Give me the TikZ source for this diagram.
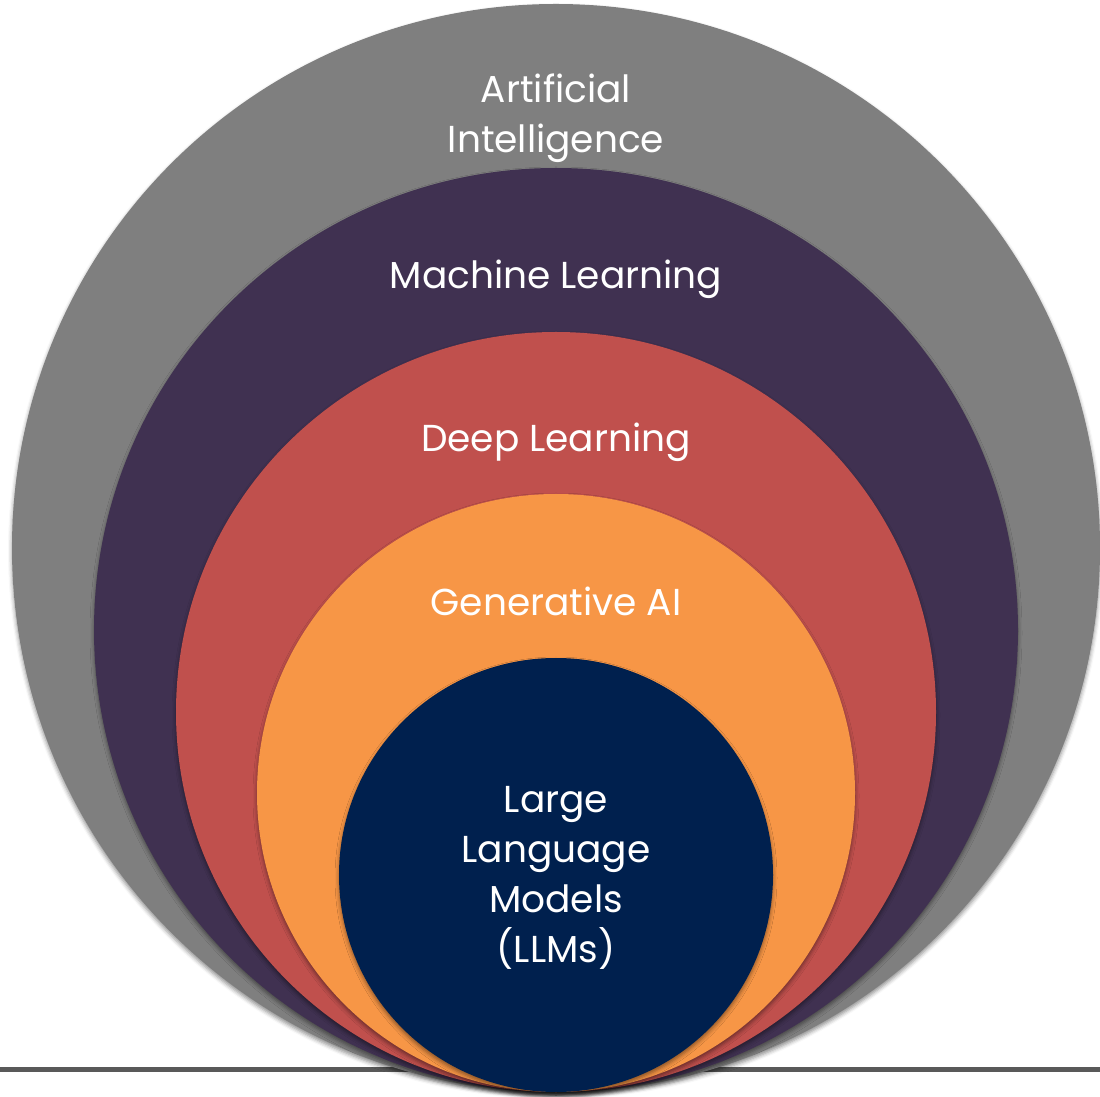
\documentclass[tikz,border=0pt]{standalone}
\usepackage{fontspec}
\setmainfont{Poppins}
\usetikzlibrary{shadows.blur}
\definecolor{cgray}{HTML}{7F7F7F}
\definecolor{cpurple}{HTML}{403151}
\definecolor{cred}{HTML}{C0504D}
\definecolor{corange}{HTML}{F79646}
\definecolor{cnavy}{HTML}{00204E}
\definecolor{cline}{HTML}{595959}
\tikzset{
  ring/.style={circle, inner sep=0pt, draw=none,
    blur shadow={shadow xshift=0pt, shadow yshift=-3pt, shadow blur radius=4pt, shadow opacity=45}},
  lbl/.style={text=white, align=center, font=\fontsize{37.5}{50}\selectfont, inner sep=0pt}
}
\begin{document}
\begin{tikzpicture}[x=1pt,y=1pt]
\useasboundingbox (0,0) rectangle (1100,1096);
\coordinate (l0) at (0,27);
\coordinate (l1) at (1100,27);
\draw[line width=5pt, cline] (l0) -- (l1);
\node[ring, fill=cgray, minimum size=1088pt] (ai) at (556,548) {};
\node[ring, fill=cpurple, minimum size=924pt] (ml) at (556,466) {};
\node[ring, fill=cred, minimum size=760pt] (dl) at (556,384) {};
\node[ring, fill=corange, minimum size=598pt] (ga) at (556,303) {};
\node[ring, fill=cnavy, minimum size=434pt] (llm) at (556,221) {};
\node[lbl] (tai) at (556,978) {Artificial\\Intelligence};
\node[lbl] (tml) at (556,817) {Machine Learning};
\node[lbl] (tdl) at (556,654) {Deep Learning};
\node[lbl] (tga) at (556,495) {Generative AI};
\node[lbl] (tllm) at (556,218) {Large\\Language\\Models\\(LLMs)};
\end{tikzpicture}
\end{document}
